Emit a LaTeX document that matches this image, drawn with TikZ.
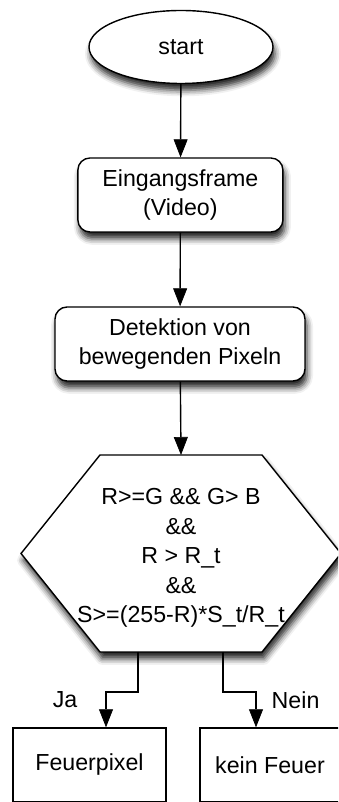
\documentclass[tikz,border=0pt]{standalone}
\usepackage{fontspec}
\setmainfont{Liberation Sans}
\usetikzlibrary{shapes.geometric,shadows.blur,arrows.meta}

\begin{document}
\begin{tikzpicture}[font=\fontsize{16.5}{21}\selectfont, line width=1pt,
	>={Triangle[length=0.45cm,width=0.35cm,fill=black,line width=0.5pt]},
	softshadow/.style={blur shadow={shadow xshift=0.05cm, shadow yshift=-0.17cm, shadow blur radius=0.15cm, shadow opacity=85}},
	startnode/.style={ellipse, draw, fill=white, minimum width=4.6cm, minimum height=1.825cm, softshadow},
	stepnode/.style={rectangle, rounded corners=0.3cm, draw, fill=white, align=center, minimum height=1.85cm, softshadow},
	hexagon/.style={draw, fill=white, softshadow},
	condtext/.style={align=center, inner sep=0pt},
	endnode/.style={rectangle, draw, fill=white, minimum height=1.85cm}]
	\useasboundingbox (0,0) rectangle (8.45,20.05);
	\clip (0,0) rectangle (8.45,20.05);
	\node[startnode] (start) at (4.525,18.875) {start};
	\node[stepnode, minimum width=5.125cm] (frame) at (4.51,15.175) {Eingangsframe\\(Video)};
	\node[stepnode, minimum width=6.25cm] (detect) at (4.5,11.45) {Detektion von\\bewegenden Pixeln};
	% the test
	\coordinate (hexc) at (4.525,6.2125);
	\draw[hexagon] (hexc) +(-2.025,2.4625) -- +(2.025,2.4625) -- +(4,0) -- +(2.025,-2.4625) -- +(-2.025,-2.4625) -- +(-4,0) -- cycle;
	\coordinate (hextop) at ([yshift=2.4625cm]hexc);
	\coordinate (jaout) at ([shift={(-1.075,-2.4625)}]hexc);
	\coordinate (neinout) at ([shift={(1.05,-2.4625)}]hexc);
	\node[condtext] (cond) at (4.525,6.1) {R>=G \&\& G> B\\\&\&\\R > R\_t\\\&\&\\S>=(255-R)*S\_t/R\_t};
	\node[endnode, minimum width=3.825cm] (fire) at (2.2375,0.925) {Feuerpixel};
	\node[endnode, minimum width=3.5cm] (nofire) at (6.75,0.925) {kein Feuer};
	\draw[->] (start) -- (frame);
	\draw[->] (frame) -- (detect);
	\draw[->] (detect) -- (hextop);
	\draw[->] (jaout) -- ++(0,-1) -| ([xshift=0.4125cm]fire.north);
	\draw[->] (neinout) -- ++(0,-1) -| ([xshift=-0.35cm]nofire.north);
	\node (ja) at (1.625,2.55) {Ja};
	\node (nein) at (7.39,2.55) {Nein};
\end{tikzpicture}
\end{document}
